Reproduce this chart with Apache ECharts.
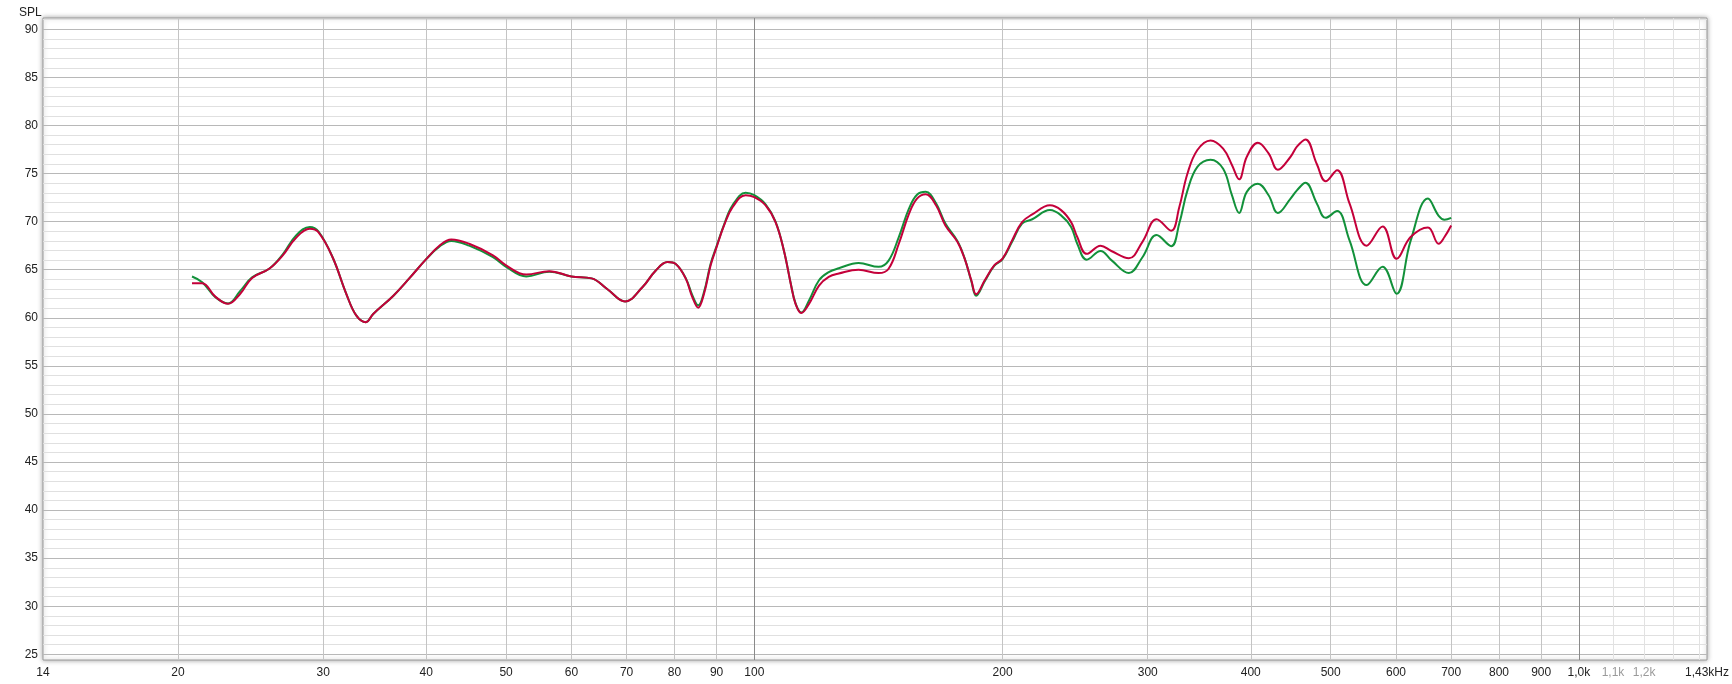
<!DOCTYPE html>
<html>
<head>
<meta charset="utf-8">
<title>SPL</title>
<script src="https://cdn.jsdelivr.net/npm/echarts@6/dist/echarts.min.js"></script>
<style>
  html, body { margin: 0; padding: 0; background: #fff; }
  #chart { width: 1732px; height: 684px; }
</style>
</head>
<body>
<div id="chart"></div>
<script>
// 频率点 (Hz)
const freqs = [20.8, 21.4, 22.2, 23.0, 23.8, 24.6, 25.8, 26.8, 27.8, 28.9, 29.6, 30.8, 32.0, 32.9, 33.8, 34.5, 36.5, 38.2, 40, 41.5,
  42.9, 45.1, 48.2, 50, 52.9, 56.4, 60, 63.5, 66.3, 69.7, 73.2, 75.9, 78.5, 80.3, 82.6, 84.1, 85.5, 86.9, 88.5, 90,
  91.9, 94.1, 97.6, 100, 103.2, 106.1, 108.6, 110.7, 112.2, 114, 116.5, 119.8, 123.1, 126.6, 133.8, 141.5, 145.5, 149.7, 154, 157.5,
  161.4, 166.1, 170.5, 176.3, 179.9, 183.3, 185.8, 190.3, 195.4, 200, 205.4, 211.2, 217.3, 228.3, 235.5, 242.2, 246.4, 253, 263, 271,
  284.6, 295.6, 307.5, 320.3, 327.6, 335.2, 344.6, 357.5, 370.3, 379.5, 387.2, 395.6, 408, 420.4, 431.4, 447, 455, 466, 481, 493,
  509, 527, 553, 578, 601, 625, 656, 676, 687, 700]
// 红色曲线 SPL (dB)
const splRed = [63.6, 63.6, 62.2, 61.45, 62.5, 64.15, 65.1, 66.5, 68.3, 69.25, 68.9, 66.3, 62.5, 60.25, 59.55, 60.4, 62.3, 64.15, 66.1, 67.5,
  68.15, 67.7, 66.5, 65.45, 64.5, 64.85, 64.3, 64.1, 63.0, 61.7, 63.2, 64.9, 65.8, 65.6, 64.05, 62.15, 61.05, 62.5, 65.45, 67.35,
  69.6, 71.5, 72.75, 72.55, 71.7, 69.95, 67.0, 63.55, 61.45, 60.5, 61.45, 63.35, 64.25, 64.6, 65.0, 64.65, 65.1, 67.7, 70.8, 72.4,
  72.85, 71.7, 69.6, 67.9, 66.15, 63.9, 62.45, 63.9, 65.45, 66.15, 68.05, 69.95, 70.75, 71.7, 71.2, 69.95, 68.4, 66.65, 67.5, 66.95,
  66.2, 67.9, 70.25, 69.05, 71.5, 75.0, 77.45, 78.45, 77.6, 75.9, 74.4, 76.75, 78.2, 77.1, 75.4, 76.75, 77.8, 78.55, 76.0, 74.2,
  75.35, 71.9, 67.5, 69.5, 66.15, 68.4, 69.4, 67.7, 68.4, 69.6]
// 绿色曲线 SPL (dB)
const splGreen = [64.3, 63.7, 62.15, 61.5, 62.8, 64.2, 65.1, 66.6, 68.55, 69.45, 69.0, 66.3, 62.5, 60.25, 59.55, 60.4, 62.3, 64.15, 66.1, 67.4,
  68.0, 67.5, 66.3, 65.3, 64.3, 64.8, 64.3, 64.1, 63.0, 61.7, 63.2, 64.9, 65.8, 65.6, 64.1, 62.35, 61.3, 62.7, 65.6, 67.45,
  69.7, 71.7, 73.0, 72.75, 71.8, 70.0, 67.0, 63.6, 61.5, 60.55, 61.8, 63.9, 64.75, 65.15, 65.7, 65.3, 65.95, 68.4, 71.35, 72.8,
  73.1, 71.9, 69.8, 68.0, 66.2, 63.8, 62.3, 63.8, 65.4, 66.1, 67.9, 69.8, 70.25, 71.2, 70.65, 69.45, 67.7, 66.05, 66.95, 66.0,
  64.65, 66.3, 68.6, 67.45, 69.8, 73.25, 75.7, 76.45, 75.5, 72.75, 70.9, 73.1, 73.95, 72.75, 70.9, 72.4, 73.25, 74.05, 71.9, 70.4,
  71.1, 68.05, 63.4, 65.3, 62.5, 68.0, 72.4, 70.6, 70.2, 70.4]

// 坐标轴刻度
const xGridFreqs = [20, 30, 40, 50, 60, 70, 80, 90, 100, 200, 300, 400, 500, 600, 700, 800, 900, 1000, 1100, 1200, 1300, 1400]
const xLabelFreqs = [13.72, 20, 30, 40, 50, 60, 70, 80, 90, 100, 200, 300, 400, 500, 600, 700, 800, 900, 1000, 1100, 1200, 1430]
const yTicks = [25, 30, 35, 40, 45, 50, 55, 60, 65, 70, 75, 80, 85, 90]

const xMin = 13.72
const xMax = 1430
const yMin = 24.41
const yMax = 91.18

const fontFamily = '"Liberation Sans", Arial, sans-serif'

// 竖线颜色：100 / 1k 深一点，1.1k 以上浅一点
const xLineColors = xGridFreqs.map((f) => {
  if (f === 100 || f === 1000) return '#8a8a8a'
  if (f > 1000) return '#e2e2e2'
  return '#c4c4c4'
})

const xLabelText = (v) => {
  if (v < 14.5) return '14'
  if (v > 1400) return '1,43kHz'
  if (v === 1000) return '1,0k'
  if (v === 1100) return '{grey|1,1k}'
  if (v === 1200) return '{grey|1,2k}'
  return String(v)
}

const myEchart = echarts.init(document.getElementById('chart'))

const option = {
  backgroundColor: '#fff',
  animation: false,
  title: {
    text: 'SPL',
    left: 14,
    top: 2,
    textStyle: { fontSize: 12, fontWeight: 'normal', color: '#222', fontFamily: fontFamily }
  },
  grid: {
    left: 43,
    top: 18,
    right: 22,
    bottom: 24,
    show: true,
    backgroundColor: '#fff',
    borderColor: '#9a9a9a',
    borderWidth: 1,
    shadowBlur: 5,
    shadowColor: 'rgba(0,0,0,0.35)',
    shadowOffsetX: 0,
    shadowOffsetY: 0
  },
  xAxis: {
    type: 'log',
    logBase: 10,
    min: xMin,
    max: xMax,
    axisLine: { show: false },
    axisTick: { show: false, customValues: xGridFreqs },
    axisLabel: {
      customValues: xLabelFreqs,
      formatter: xLabelText,
      color: '#222',
      fontSize: 12,
      fontFamily: fontFamily,
      margin: 7,
      rich: { grey: { color: '#9a9a9a', fontSize: 12, fontFamily: fontFamily } }
    },
    splitLine: { show: true, lineStyle: { color: xLineColors, width: 1 } }
  },
  yAxis: {
    type: 'value',
    min: yMin,
    max: yMax,
    splitNumber: 13,
    minInterval: 5,
    maxInterval: 5,
    axisLine: { show: false },
    axisTick: { show: false, customValues: yTicks },
    axisLabel: {
      customValues: yTicks,
      color: '#222',
      fontSize: 12,
      fontFamily: fontFamily,
      margin: 5
    },
    splitLine: { show: true, lineStyle: { color: '#b8b8b8', width: 1 } },
    minorTick: { show: false, splitNumber: 5 },
    minorSplitLine: { show: true, lineStyle: { color: '#e0e0e0', width: 1 } }
  },
  series: [
    {
      name: 'green',
      type: 'line',
      showSymbol: false,
      smooth: 0.4,
      color: '#12913a',
      lineStyle: { width: 2, color: '#12913a' },
      data: freqs.map((f, i) => [f, splGreen[i]])
    },
    {
      name: 'red',
      type: 'line',
      showSymbol: false,
      smooth: 0.4,
      color: '#c4003a',
      lineStyle: { width: 2, color: '#c4003a' },
      data: freqs.map((f, i) => [f, splRed[i]])
    }
  ]
}
myEchart.setOption(option)
</script>
</body>
</html>
